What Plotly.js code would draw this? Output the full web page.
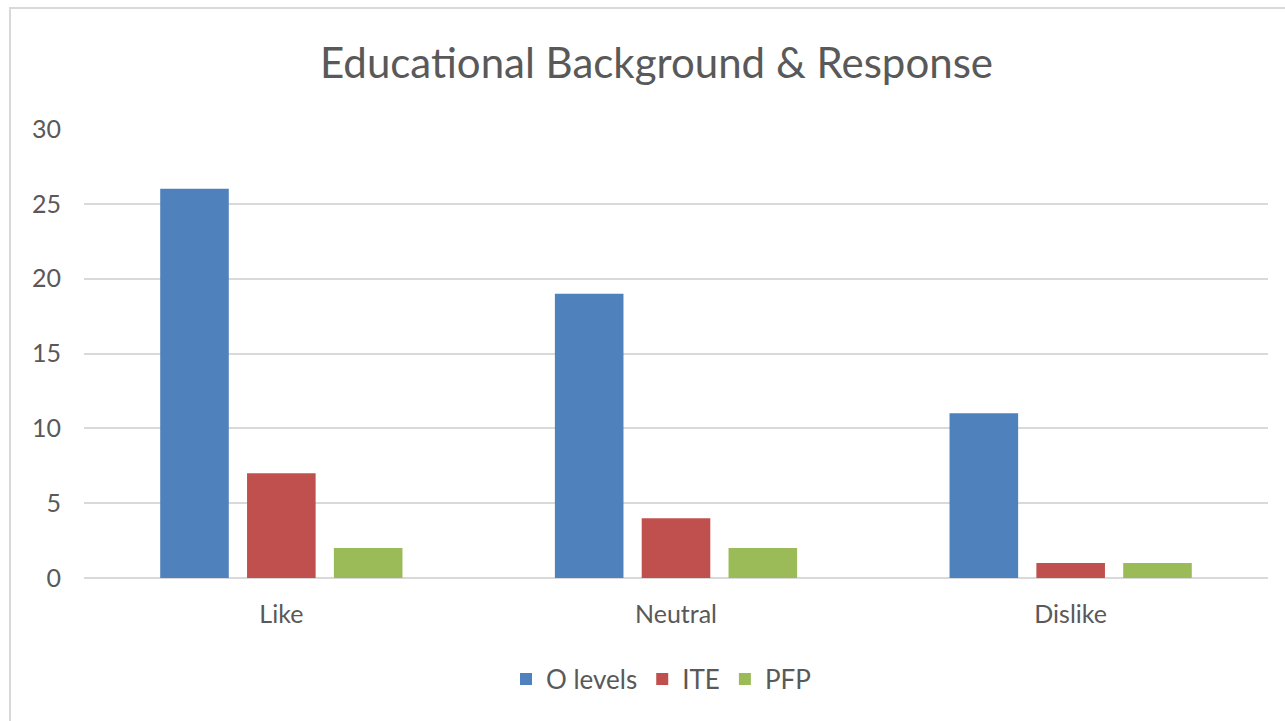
<!DOCTYPE html>
<html>
<head>
<meta charset="utf-8">
<script src="https://cdn.plot.ly/plotly-3.0.1.min.js"></script>
<style>
  html, body { margin: 0; padding: 0; background: #fff; }
  #chart { width: 1285px; height: 721px; }
  #frame { position: absolute; left: 9px; top: 7px; width: 1285px; height: 721px;
           border-left: 2px solid #D9D9D9; border-top: 2px solid #D9D9D9; pointer-events: none; }
</style>
</head>
<body>
<div id="chart"></div>
<div id="frame"></div>
<script>
const categories = ["Like", "Neutral", "Dislike"];
const seriesNames = ["O levels", "ITE", "PFP"];
const oLevels = [26, 19, 11];
const ite = [7, 4, 1];
const pfp = [2, 2, 1];
const yTicks = [0, 5, 10, 15, 20, 25, 30];
const colors = ["#4F81BD", "#C0504D", "#9BBB59"];

const FONT = "Lato, 'Open Sans', sans-serif";
const values = [oLevels, ite, pfp];
const traces = values.map((v, i) => ({
  type: "bar",
  name: seriesNames[i],
  x: categories,
  y: v,
  marker: { color: colors[i] },
  hoverinfo: "x+y+name"
}));

const layout = {
  width: 1285,
  height: 721,
  margin: { l: 84, r: 17, t: 129, b: 143, pad: 0 },
  paper_bgcolor: "#ffffff",
  plot_bgcolor: "#ffffff",
  barmode: "group",
  bargap: 0.34,
  bargroupgap: 0.21,
  title: {
    text: "Educational Background & Response",
    font: { family: FONT, size: 42, color: "#595959" },
    x: 656.5 / 1285, xref: "container", xanchor: "center",
    y: 1 - 63 / 721, yref: "container", yanchor: "middle"
  },
  xaxis: {
    showgrid: false,
    showline: false,
    zeroline: false,
    ticks: "",
    tickfont: { family: FONT, size: 25, color: "#595959" },
    ticklabelstandoff: 19
  },
  yaxis: {
    range: [0, 30],
    tickvals: yTicks,
    ticktext: yTicks.map(String),
    showgrid: true,
    gridcolor: "#D9D9D9",
    gridwidth: 1.5,
    zeroline: true,
    zerolinecolor: "#D9D9D9",
    zerolinewidth: 2,
    showline: false,
    ticks: "",
    tickfont: { family: FONT, size: 25, color: "#595959" },
    ticklabelstandoff: 22,
    fixedrange: true
  },
  legend: {
    orientation: "h",
    xref: "container", yref: "container",
    x: 661 / 1285, xanchor: "center",
    y: 1 - 679 / 721, yanchor: "middle",
    font: { family: FONT, size: 26, color: "#595959" },
    itemwidth: 30,
    traceorder: "normal"
  },
  showlegend: true
};

Plotly.newPlot("chart", traces, layout, { displayModeBar: false, staticPlot: false });
</script>
</body>
</html>
